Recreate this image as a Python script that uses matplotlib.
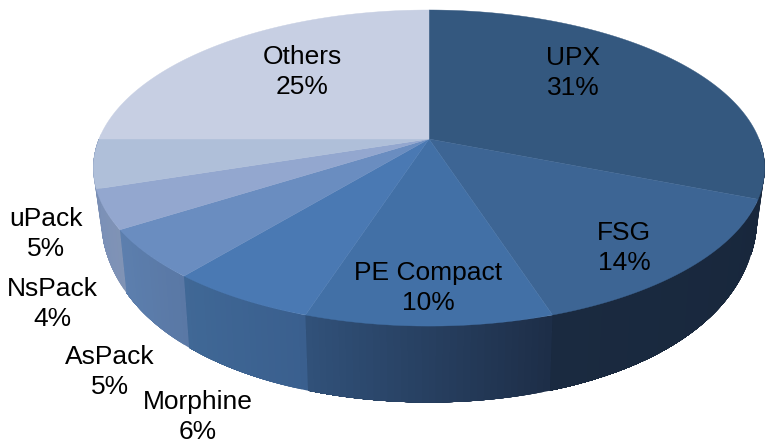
import numpy as np
import matplotlib
matplotlib.use("Agg")
import matplotlib.pyplot as plt
from matplotlib.colors import to_rgb

# Packers, clockwise from the top
names = ["UPX", "FSG", "PE Compact", "Morphine", "AsPack", "NsPack", "uPack", "Others"]
values = [31, 14, 10, 6, 5, 4, 5, 25]

top_colors = ["#34587F", "#3D6594", "#4270A6", "#4A79B3", "#6A8DC0", "#93A7CF", "#AFBFD9", "#C7CFE3"]
wall_start = ["#18273C", "#18273C", "#1D2E47", "#3A5F8E", "#5A78A5", "#8093B5", "#7A8FB5", "#C7CFE3"]
wall_end = ["#18273C", "#1A2A40", "#31517A", "#406896", "#5C7FAE", "#7A90B8", "#7A8FB5", "#C7CFE3"]

label_x = [573, 624, 428, 198, 110, 52, 46, 302]
label_y = [73, 248, 288, 417, 372, 304, 234, 72]

# Fitted look of the tilted disc, in pixels
CX, CY = 429, 139
RX, RY = 330, 152.7
TILT = 0.1837


def top_point(a):
    u, v = np.sin(a), np.cos(a)
    w = 1 + TILT * v
    return CX + RX * u / w, CY - RY * v / w


def bottom_point(a):
    u, v = np.sin(a), np.cos(a)
    x = CX + 323 * u / (1 + TILT * v)
    y = 173 - 218 * v / (1 + 0.05 * v)
    return x, y


fig = plt.figure(figsize=(7.65, 4.44), dpi=100)
ax = fig.add_axes([0, 0, 1, 1])
ax.set_xlim(0, 765)
ax.set_ylim(444, 0)
ax.axis("off")

edges = np.radians(np.cumsum([0] + values) * 3.6)

# side wall first; each strip runs to the slice end and the next one paints over it, so no seams
for i in range(len(values)):
    lo = max(edges[i], np.radians(90))
    hi = min(edges[i + 1], np.radians(272))
    if hi <= lo:
        continue
    n = max(2, int(np.degrees(hi - lo)))
    steps = np.linspace(lo, hi, n + 1)
    c0, c1 = np.array(to_rgb(wall_start[i])), np.array(to_rgb(wall_end[i]))
    for j in range(n):
        t = (j + 0.5) / n
        col = c0 + (c1 - c0) * t
        aa = np.linspace(steps[j], hi, 4 * (n - j) + 1)
        tx, ty = top_point(aa)
        bx, by = bottom_point(aa)
        ax.fill(np.r_[tx, bx[::-1]], np.r_[ty, by[::-1]], color=col, lw=0, zorder=1)

# top face
for i in range(len(values)):
    aa = np.linspace(edges[i], edges[i + 1], 120)
    tx, ty = top_point(aa)
    ax.fill(np.r_[CX, tx], np.r_[CY, ty], color=top_colors[i], lw=0.3, zorder=2)

for i in range(len(names)):
    ax.text(label_x[i], label_y[i], f"{names[i]}\n{values[i]}%", ha="center", va="center",
            fontsize=19, family="Liberation Sans", color="black", linespacing=1.36, zorder=3)

fig.savefig("out.png", dpi=100)
